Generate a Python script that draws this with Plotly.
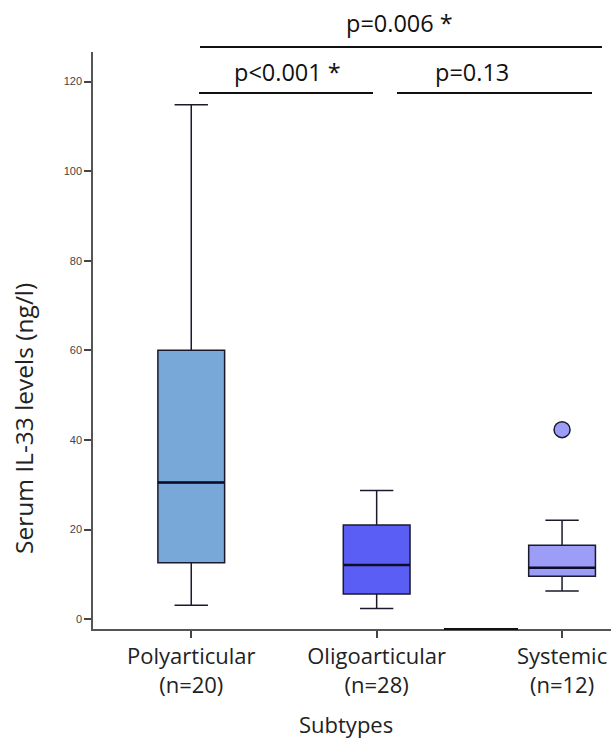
import plotly.graph_objects as go

categories = ["Polyarticular", "Oligoarticular", "Systemic"]
tick_labels = ["Polyarticular<br>(n=20)", "Oligoarticular<br>(n=28)", "Systemic<br>(n=12)"]
lower_whisker = [3.1, 2.4, 6.3]
q1_values = [12.6, 5.6, 9.6]
medians = [30.5, 12.1, 11.5]
q3_values = [60.0, 21.0, 16.5]
upper_whisker = [114.8, 28.7, 22.1]
outlier_cat = ["Systemic"]
outlier_val = [42.3]
box_colors = ["#78A8D8", "#5B5EF4", "#9C9DF7"]

comparisons = ["p=0.006 *", "p<0.001 *", "p=0.13"]

FONT = "Open Sans"
BOX_W = 0.36
fig = go.Figure()
for i, c in enumerate(categories):
    fig.add_trace(go.Box(
        x=[c], q1=[q1_values[i]], median=[medians[i]], q3=[q3_values[i]],
        lowerfence=[lower_whisker[i]], upperfence=[upper_whisker[i]],
        fillcolor=box_colors[i], line=dict(color="#1a1a2e", width=1.5),
        width=BOX_W, whiskerwidth=0.5, boxpoints=False, showlegend=False,
        hoverinfo="skip",
    ))
    # thicker median line
    fig.add_shape(type="line", xref="x", yref="y",
                  x0=i - BOX_W / 2, x1=i + BOX_W / 2, y0=medians[i], y1=medians[i],
                  line=dict(color="#0d0d2a", width=2.5))

fig.add_trace(go.Scatter(
    x=outlier_cat, y=outlier_val, mode="markers",
    marker=dict(size=16, color="#9C9DF7", line=dict(color="#1a1a2e", width=1.5)),
    showlegend=False, hoverinfo="skip",
))

fig.update_layout(
    width=611, height=741,
    margin=dict(l=93, r=0, t=52, b=112),
    plot_bgcolor="white", paper_bgcolor="white",
    font=dict(family=FONT, color="#222"),
    xaxis=dict(
        type="category", categoryorder="array", categoryarray=categories,
        tickmode="array", tickvals=categories, ticktext=tick_labels,
        range=[-0.53, 2.264], showgrid=False, zeroline=False,
        showline=True, linecolor="#555", linewidth=1.5,
        ticks="outside", ticklen=7, tickcolor="#444", tickwidth=1.5,
        tickfont=dict(size=22, family=FONT, color="#222"),
    ),
    yaxis=dict(
        range=[-2.2, 126.6], tickvals=[0, 20, 40, 60, 80, 100, 120],
        showgrid=False, zeroline=False,
        showline=True, linecolor="#555", linewidth=1.5,
        ticks="outside", ticklen=7, tickcolor="#444", tickwidth=1.5,
        tickfont=dict(size=11, family="Liberation Sans", color="#444"),
    ),
)

L, R, T, B = 93, 611, 52, 629
def px(x):
    return (x - L) / (R - L)
def py(y):
    return (B - y) / (B - T)

line_style = dict(color="#111", width=2)
fig.add_shape(type="line", xref="paper", yref="paper", x0=px(200), x1=px(602), y0=py(47), y1=py(47), line=line_style)
fig.add_shape(type="line", xref="paper", yref="paper", x0=px(199), x1=px(373), y0=py(93), y1=py(93), line=line_style)
fig.add_shape(type="line", xref="paper", yref="paper", x0=px(397), x1=px(592), y0=py(93), y1=py(93), line=line_style)
# dark segment on x axis
fig.add_shape(type="line", xref="paper", yref="paper", x0=px(444), x1=px(518), y0=0, y1=0, line=dict(color="#111", width=2))

ann_pos = [(399, 23), (287, 72), (472, 72)]
for t, (ax, ay) in zip(comparisons, ann_pos):
    fig.add_annotation(text=t, x=px(ax), y=py(ay), xref="paper", yref="paper",
                       showarrow=False, xanchor="center", yanchor="middle",
                       font=dict(size=23.5, family=FONT, color="#111"))

fig.add_annotation(text="Serum IL-33 levels (ng/l)", x=px(23), y=py(419), xref="paper", yref="paper",
                   showarrow=False, textangle=-90, xanchor="center", yanchor="middle",
                   font=dict(size=24.5, family=FONT, color="#222"))
fig.add_annotation(text="Subtypes", x=px(346), y=py(724), xref="paper", yref="paper",
                   showarrow=False, xanchor="center", yanchor="middle",
                   font=dict(size=22, family=FONT, color="#222"))

fig.write_html("out.html", config={"displayModeBar": False},
               post_script="document.body.style.margin='0';document.body.style.overflow='hidden';")
